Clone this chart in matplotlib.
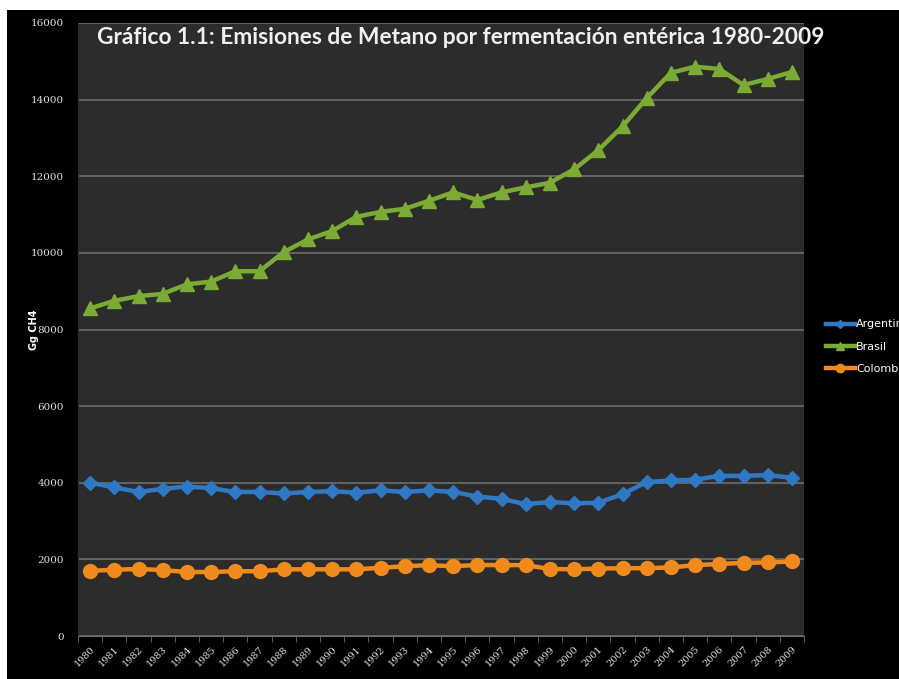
import numpy as np
import matplotlib.pyplot as plt
from matplotlib.patches import Rectangle

# ==================== Data ====================
years = [str(y) for y in range(1980, 2010)]

argentina = [4000, 3880, 3760, 3840, 3900, 3860, 3760, 3760, 3720, 3760,
             3780, 3740, 3800, 3760, 3800, 3760, 3640, 3580, 3440, 3500,
             3460, 3480, 3700, 4020, 4060, 4080, 4180, 4180, 4200, 4130]

brasil = [8550, 8750, 8870, 8930, 9180, 9250, 9520, 9520, 10020, 10350,
          10570, 10940, 11070, 11150, 11360, 11580, 11380, 11580, 11710, 11830,
          12180, 12680, 13300, 14040, 14700, 14860, 14800, 14380, 14540, 14720]

colombia = [1700, 1730, 1750, 1720, 1670, 1670, 1690, 1690, 1740, 1740,
            1740, 1740, 1780, 1820, 1850, 1820, 1855, 1850, 1850, 1750,
            1740, 1760, 1770, 1770, 1790, 1850, 1880, 1910, 1920, 1945]

series = [
    ('Argentina', argentina, '#2f78c4', 'D', 7),
    ('Brasil', brasil, '#7bab35', '^', 10),
    ('Colombia', colombia, '#f08a1c', 'o', 10),
]

# ==================== Figure ====================
W, H = 899, 679
fig = plt.figure(figsize=(W / 100, H / 100), dpi=100, facecolor='white')
fig.patches.append(Rectangle((7 / W, 0), 1, 1 - 10 / H, transform=fig.transFigure,
                             facecolor='black', edgecolor='none', zorder=-1))

ax = fig.add_axes([78 / W, 1 - 636 / H, (804 - 78) / W, (636 - 23) / H])
ax.set_facecolor('#2c2c2c')

x = np.arange(len(years))
for name, vals, col, mk, ms in series:
    ax.plot(x, vals, color=col, lw=3.2, marker=mk, markersize=ms,
            markeredgecolor=col, label=name, zorder=3)

ax.set_xlim(-0.5, len(years) - 0.5)
ax.set_ylim(0, 16000)
ax.set_yticks(range(0, 16001, 2000))
ax.yaxis.grid(True, color='#6e6e6e', lw=1.2)
ax.set_axisbelow(True)

ax.set_xticks(x)
ax.set_xticklabels(years, rotation=45, ha='right', rotation_mode='anchor',
                   fontsize=7, color='#e0e0e0', family='DejaVu Serif')
ax.set_xticks(np.arange(-0.5, len(years)), minor=True)
ax.tick_params(axis='x', which='major', length=0, pad=6)
ax.tick_params(axis='x', which='minor', length=4, color='#6e6e6e')
ax.tick_params(axis='y', length=0, pad=10, labelsize=7.5, labelcolor='#e0e0e0')
for lab in ax.get_yticklabels():
    lab.set_family('DejaVu Serif')

for s in ['top', 'right']:
    ax.spines[s].set_visible(False)
ax.spines['left'].set_color('#2c2c2c')
ax.spines['bottom'].set_color('#6e6e6e')

fig.text(34 / W, 1 - 330 / H, 'Gg CH4', fontsize=7, color='white', fontweight='bold',
         rotation=90, ha='center', va='center')

fig.text(97 / W, 1 - 37 / H, 'Gráfico 1.1: Emisiones de Metano por fermentación entérica 1980-2009',
         fontsize=16.4, fontweight='bold', color='#f0f0f0', family='Lato',
         va='center', ha='left')

leg = ax.legend(loc='center left', bbox_to_anchor=(1.016, 0.472), frameon=False,
                fontsize=8, labelcolor='white', handlelength=2.6, handletextpad=0.15,
                labelspacing=1.1, markerscale=0.6)

fig.savefig('out.png', dpi=100, facecolor=fig.get_facecolor())
